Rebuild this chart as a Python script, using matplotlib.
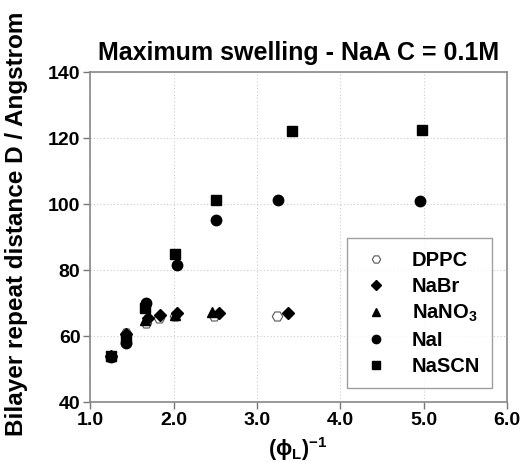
import matplotlib
matplotlib.use('Agg')
import matplotlib.pyplot as plt
from matplotlib.ticker import FormatStrFormatter

plt.rcParams['font.family'] = ['Liberation Sans', 'DejaVu Sans']
plt.rcParams['font.weight'] = 'bold'
plt.rcParams['mathtext.fontset'] = 'custom'
plt.rcParams['mathtext.rm'] = 'Liberation Sans:bold'
plt.rcParams['mathtext.bf'] = 'Liberation Sans:bold'
plt.rcParams['mathtext.it'] = 'Liberation Sans:bold'

# Data
dppc_x = [1.25, 1.43, 1.67, 1.82, 2.02, 2.49, 3.24]
dppc_y = [54.0, 61.0, 64.0, 65.5, 66.0, 66.0, 66.0]

nabr_x = [1.25, 1.43, 1.69, 1.84, 2.04, 2.55, 3.37]
nabr_y = [54.0, 60.5, 65.5, 66.5, 67.0, 67.0, 67.0]

nano3_x = [1.25, 1.43, 1.66, 2.02, 2.46]
nano3_y = [54.0, 60.0, 65.0, 66.5, 67.2]

nai_x = [1.25, 1.43, 1.67, 2.04, 2.51, 3.25, 4.95]
nai_y = [53.7, 58.0, 70.0, 81.5, 95.3, 101.2, 101.0]

nascn_x = [1.25, 1.43, 1.66, 2.02, 2.51, 3.42, 4.98]
nascn_y = [54.0, 59.0, 68.5, 85.0, 101.2, 122.2, 122.4]

x_ticks = [1.0, 2.0, 3.0, 4.0, 5.0, 6.0]
y_ticks = [40, 60, 80, 100, 120, 140]

fig = plt.figure(figsize=(5.24, 4.68), dpi=100)
ax = fig.add_axes([0.172, 0.141, 0.796, 0.705])

ms = 7
ax.plot(dppc_x, dppc_y, linestyle='none', marker='H', markersize=ms + 0.5,
        markerfacecolor='white', markeredgecolor='#555555', markeredgewidth=0.8,
        label='DPPC', zorder=3)
ax.plot(nabr_x, nabr_y, linestyle='none', marker='D', markersize=ms - 0.5,
        color='black', label='NaBr', zorder=4)
ax.plot(nano3_x, nano3_y, linestyle='none', marker='^', markersize=ms + 0.5,
        color='black', label='NaNO$_3$', zorder=4)
ax.plot(nai_x, nai_y, linestyle='none', marker='o', markersize=ms + 0.5,
        color='black', label='NaI', zorder=4)
ax.plot(nascn_x, nascn_y, linestyle='none', marker='s', markersize=ms,
        color='black', label='NaSCN', zorder=4)

ax.set_xlim(1.0, 6.0)
ax.set_ylim(40, 140)
ax.set_xticks(x_ticks)
ax.set_yticks(y_ticks)
ax.xaxis.set_major_formatter(FormatStrFormatter('%.1f'))
ax.tick_params(labelsize=14, color='#777777', length=5, width=1, pad=2)
for lab in ax.get_xticklabels() + ax.get_yticklabels():
    lab.set_fontweight('bold')

for sp in ax.spines.values():
    sp.set_color('#888888')
    sp.set_linewidth(1.2)

ax.grid(True, linestyle=(0, (1, 2)), color='#cccccc', linewidth=0.8)
ax.set_axisbelow(True)

ax.set_title('Maximum swelling - NaA C = 0.1M', fontsize=18, fontweight='bold', pad=9)
ax.set_xlabel('(ϕ$_{L}$)$^{-1}$', fontsize=15.5, fontweight='bold')
ax.xaxis.set_label_coords(0.497, -0.1)
ax.set_ylabel('Bilayer repeat distance D / Angstrom', fontsize=17.5, fontweight='bold')
ax.yaxis.set_label_coords(-0.148, 0.54)

leg = ax.legend(loc='lower right', bbox_to_anchor=(0.964, 0.042), fontsize=14.5,
                frameon=True, fancybox=False, handletextpad=1.0, markerscale=0.8,
                labelspacing=0.35, borderpad=0.6, borderaxespad=0.0,
                handlelength=1.6)
leg.get_frame().set_edgecolor('#888888')
leg.get_frame().set_linewidth(1.0)
for t in leg.get_texts():
    t.set_fontweight('bold')

fig.savefig('out.png', dpi=100)
